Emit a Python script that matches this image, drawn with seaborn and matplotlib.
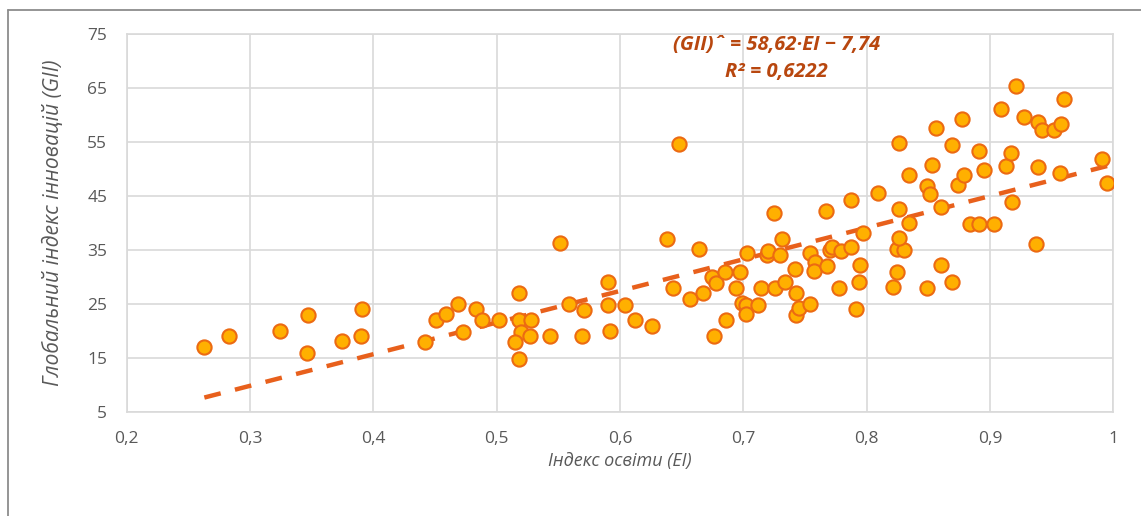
"""
plot.py
-------
Scatter of the Global Innovation Index against the Education Index
with a dashed linear trendline (Excel-style chart).
"""

import numpy as np
import pandas as pd
import matplotlib
matplotlib.use("Agg")
import matplotlib.pyplot as plt
from matplotlib.lines import Line2D
import seaborn as sns

# ---- Data ----
ei = [
    0.263, 0.283, 0.324, 0.347, 0.346, 0.375, 0.391, 0.390, 0.442, 0.451,
    0.459, 0.469, 0.483, 0.488, 0.473, 0.502, 0.518, 0.518, 0.520, 0.515,
    0.528, 0.527, 0.518, 0.543, 0.551, 0.559, 0.571, 0.569, 0.590, 0.590,
    0.592, 0.604, 0.612, 0.626, 0.648, 0.638, 0.643, 0.664, 0.657, 0.667,
    0.676, 0.675, 0.678, 0.685, 0.686, 0.694, 0.697, 0.699, 0.702, 0.702,
    0.703, 0.712, 0.714, 0.719, 0.720, 0.725, 0.726, 0.730, 0.731, 0.734,
    0.742, 0.743, 0.743, 0.745, 0.754, 0.754, 0.758, 0.757, 0.767, 0.768,
    0.770, 0.772, 0.778, 0.779, 0.787, 0.787, 0.791, 0.794, 0.795, 0.797,
    0.809, 0.821, 0.825, 0.825, 0.830, 0.826, 0.826, 0.826, 0.834, 0.834,
    0.849, 0.849, 0.851, 0.853, 0.856, 0.860, 0.860, 0.869, 0.869, 0.874,
    0.877, 0.879, 0.884, 0.891, 0.891, 0.895, 0.903, 0.909, 0.913, 0.917,
    0.918, 0.921, 0.928, 0.937, 0.939, 0.939, 0.942, 0.952, 0.958, 0.957,
    0.960, 0.991, 0.995,
]
gii = [
    17.0, 19.1, 20.1, 23.0, 16.0, 18.2, 24.1, 19.1, 18.0, 22.1,
    23.2, 25.1, 24.1, 22.1, 19.9, 22.1, 27.0, 22.1, 19.9, 17.9,
    22.1, 19.0, 14.9, 19.0, 36.4, 25.1, 23.9, 19.0, 29.0, 24.9,
    20.1, 24.9, 22.1, 21.0, 54.6, 37.0, 28.0, 35.3, 25.9, 27.0,
    19.0, 30.1, 28.9, 30.9, 22.1, 28.0, 30.9, 25.2, 24.9, 23.1,
    34.4, 24.9, 28.0, 34.1, 34.9, 41.9, 28.0, 34.1, 37.1, 29.0,
    31.5, 27.0, 23.0, 24.2, 25.1, 34.4, 32.8, 31.2, 42.3, 32.1,
    35.1, 35.6, 28.0, 34.9, 35.6, 44.2, 24.1, 29.0, 32.3, 38.2,
    45.6, 28.2, 30.9, 35.3, 35.1, 37.3, 42.7, 54.8, 40.1, 48.9,
    28.0, 46.8, 45.4, 50.7, 57.7, 32.3, 43.0, 29.0, 54.4, 47.1,
    59.3, 49.0, 39.9, 39.9, 53.4, 49.9, 39.9, 61.2, 50.6, 53.0,
    44.0, 65.4, 59.6, 36.2, 50.4, 58.7, 57.3, 57.3, 58.3, 49.3,
    63.0, 51.9, 47.5,
]

# Trendline as printed on the chart
slope = 58.62
intercept = -7.74
r2_text = "0,6222"

x_ticks = [0.2, 0.3, 0.4, 0.5, 0.6, 0.7, 0.8, 0.9, 1.0]
x_tick_labels = ["0,2", "0,3", "0,4", "0,5", "0,6", "0,7", "0,8", "0,9", "1"]
y_ticks = [5, 15, 25, 35, 45, 55, 65, 75]

df = pd.DataFrame({"EI": ei, "GII": gii})

sns.set_style("white")
plt.rcParams["font.family"] = ["Open Sans", "DejaVu Sans"]

fig = plt.figure(figsize=(11.41, 5.16), dpi=100)
ax = fig.add_axes([0.111, 0.2016, 0.8647, 0.7319])

# ---- Trendline ----
xs = np.array([df["EI"].min(), df["EI"].max()])
ax.plot(xs, slope * xs + intercept, color="#E8601C", lw=3.2,
        dashes=(3.8, 3.3), solid_capstyle="butt", zorder=2)

# ---- Points ----
sns.scatterplot(data=df, x="EI", y="GII", ax=ax, s=105,
                color="#FFB000", edgecolor="#EC6A12", linewidth=1.5,
                zorder=3)

ax.set_xlim(0.2, 1.0)
ax.set_ylim(5, 75)
ax.set_xticks(x_ticks)
ax.set_xticklabels(x_tick_labels)
ax.set_yticks(y_ticks)
ax.grid(True, color="#D9D9D9", lw=1.2)
ax.set_axisbelow(True)
for sp in ax.spines.values():
    sp.set_color("#D9D9D9")
    sp.set_linewidth(1.2)
ax.tick_params(axis="both", length=0, labelsize=12.5, colors="#595959",
               pad=14)

ax.set_xlabel("Індекс освіти (EI)", fontsize=13, style="italic",
              color="#595959", labelpad=3)
ax.set_ylabel("Глобальний індекс інновацій (GII)", fontsize=15.2,
              style="italic", color="#595959", labelpad=17)

# ---- Equation box ----
eq_style = dict(ha="center", va="center", fontsize=14.5, fontweight="bold",
                style="italic", color="#B8470F")
ax.text(0.727, 73.0, "(GII)ˆ = 58,62·EI − 7,74", **eq_style)
ax.text(0.727, 68.0, f"R² = {r2_text}", **eq_style)

# ---- Outer chart border (top and left only visible) ----
fig.add_artist(Line2D([8 / 1141, 1.0], [1 - 10 / 516] * 2,
                      transform=fig.transFigure, color="#8C8C8C", lw=1.3))
fig.add_artist(Line2D([8 / 1141] * 2, [0.0, 1 - 10 / 516],
                      transform=fig.transFigure, color="#8C8C8C", lw=1.3))

fig.savefig("out.png", dpi=100)
plt.close(fig)
